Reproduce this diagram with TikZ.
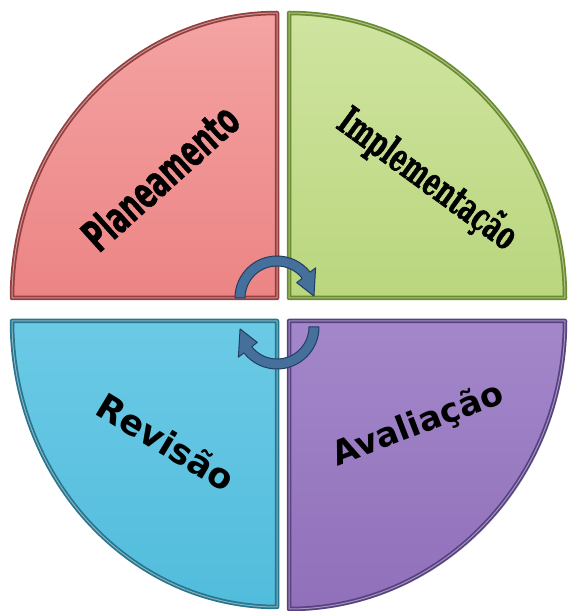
\documentclass[tikz,border=0pt]{standalone}
\usepackage{fontspec}
\setmainfont{DejaVu Sans}
\newfontfamily\condsans{DejaVu Sans Condensed}[BoldFont={DejaVu Sans Condensed Bold},BoldFeatures={FakeBold=1.2}]
\newfontfamily\condslab{DejaVu Serif Condensed}[BoldFont={DejaVu Serif Condensed Bold},BoldFeatures={FakeBold=1.6}]
\usetikzlibrary{shadows}
\definecolor{redfill}{HTML}{EC8484}
\definecolor{redlight}{HTML}{F4A3A3}
\definecolor{reddark}{HTML}{953E3E}
\definecolor{greenfill}{HTML}{BAD67E}
\definecolor{greenlight}{HTML}{CFE4A0}
\definecolor{greendark}{HTML}{6A8C2E}
\definecolor{bluefill}{HTML}{52BCDC}
\definecolor{bluelight}{HTML}{6BCAE6}
\definecolor{bluedark}{HTML}{27758E}
\definecolor{purplefill}{HTML}{9070BA}
\definecolor{purplelight}{HTML}{A387CA}
\definecolor{purpledark}{HTML}{574183}
\definecolor{arrowfill}{HTML}{46709C}
\definecolor{arrowdark}{HTML}{213D60}
\def\redpath{(277,313) -- (12,313) arc[start angle=180,end angle=90,x radius=265,y radius=285] -- cycle}
\def\greenpath{(289,313) -- (289,598) arc[start angle=90,end angle=0,x radius=276,y radius=285] -- cycle}
\def\bluepath{(277,290) -- (12,290) arc[start angle=180,end angle=270,x radius=265,y radius=286] -- cycle}
\def\purplepath{(289,290) -- (289,2) arc[start angle=270,end angle=360,x radius=276,y radius=288] -- cycle}
\begin{document}
\begin{tikzpicture}[x=1pt,y=1pt,
  quad/.style={line width=4.5pt,line join=round,
    drop shadow={shadow xshift=2pt,shadow yshift=-2pt,opacity=.3}},
  bevel/.style={line width=1pt,line join=round,white,opacity=.45},
  label/.style={inner sep=0pt,text=black},
  cyclearrow/.style={fill=arrowfill,draw=arrowdark,line width=1pt,line join=round}]
\useasboundingbox (0,0) rectangle (576,611);
% quadrants
\path[quad,draw=reddark,top color=redlight,bottom color=redfill] \redpath;
\draw[bevel] \redpath;
\path[quad,draw=greendark,top color=greenlight,bottom color=greenfill] \greenpath;
\draw[bevel] \greenpath;
\path[quad,draw=bluedark,top color=bluelight,bottom color=bluefill] \bluepath;
\draw[bevel] \bluepath;
\path[quad,draw=purpledark,top color=purplelight,bottom color=purplefill] \purplepath;
\draw[bevel] \purplepath;
% labels
\node[label,rotate=42] (plan) at (160,434)
  {\scalebox{1}[1.5]{\fontsize{29}{34}\selectfont\condsans\bfseries Planeamento}};
\node[label,rotate=-36] (impl) at (427,431)
  {\scalebox{1}[1.45]{\fontsize{27}{32}\selectfont\condslab\bfseries Implementação}};
\node[label,rotate=-31] (rev) at (166,169)
  {\fontsize{35}{42}\selectfont\bfseries Revisão};
\node[label,rotate=21] (aval) at (418,186)
  {\fontsize{33.5}{40}\selectfont\bfseries Avaliação};
% cycle arrows
\begin{scope}[shift={(277,313)}]
\path[cyclearrow] (180:42) arc[start angle=180,end angle=38,radius=42]
  -- (38:49) -- (3:37) -- (38:25) -- (38:32)
  arc[start angle=38,end angle=180,radius=32] -- cycle;
\end{scope}
\begin{scope}[shift={(277,284)}]
\path[cyclearrow] (0:42) arc[start angle=0,end angle=-142,radius=42]
  -- (-142:49) -- (-177:37) -- (-142:25) -- (-142:32)
  arc[start angle=-142,end angle=0,radius=32] -- cycle;
\end{scope}
\end{tikzpicture}
\end{document}
